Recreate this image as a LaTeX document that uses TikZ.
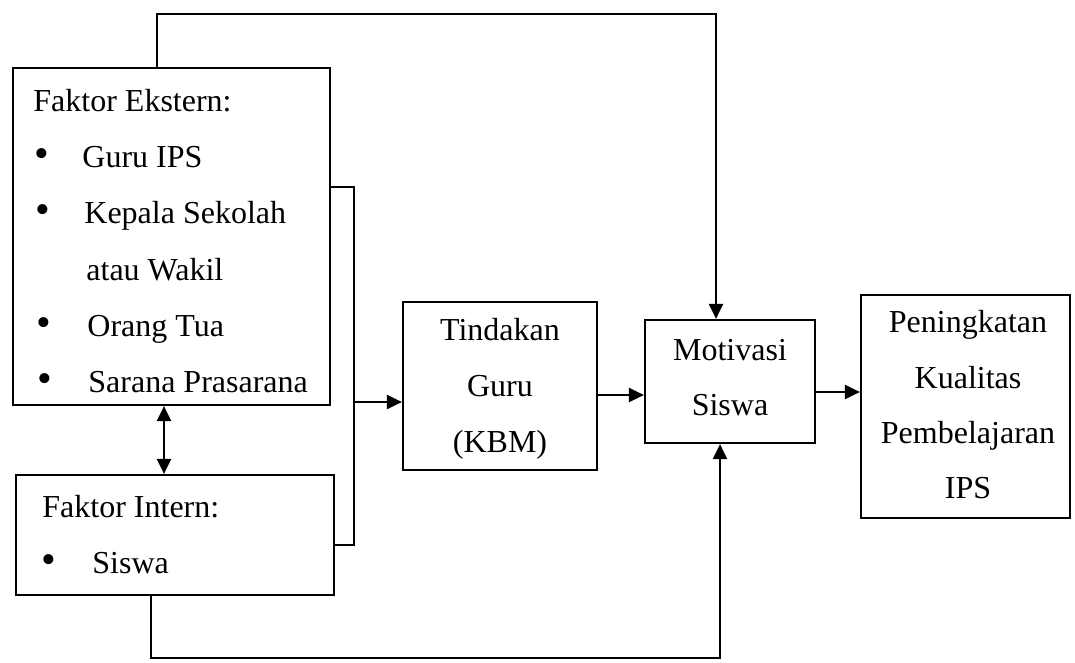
\documentclass[tikz,border=0pt]{standalone}
\usepackage{fontspec}
\setmainfont{Liberation Serif}
\usetikzlibrary{arrows.meta,fit}
\begin{document}
\begin{tikzpicture}[x=0.5pt,y=-0.5pt,
  every node/.style={font=\fontsize{16}{20}\selectfont},
  box/.style={draw,line width=1.1pt,inner sep=0pt,rectangle},
  txt/.style={inner sep=0pt,anchor=base west},
  ctxt/.style={inner sep=0pt,anchor=base},
  bul/.style={inner sep=0pt,anchor=base west,font=\fontsize{21}{21}\selectfont},
  link/.style={line width=1.1pt},
  arr/.style={line width=1.1pt,-{Triangle[length=7.5pt,width=7pt]}},
  darr/.style={line width=1.1pt,{Triangle[length=7.5pt,width=7pt]}-{Triangle[length=7.5pt,width=7pt]}}]
\useasboundingbox (0,0) rectangle (1075,663);
% boxes
\node[box,fit={(13,68)(330,405)}] (ext) {};
\node[box,fit={(16,475)(334,595)}] (int) {};
\node[box,fit={(403,302)(597,470)}] (tin) {};
\node[box,fit={(645,320)(815,443)}] (mot) {};
\node[box,fit={(861,295)(1070,518)}] (pen) {};
% Ekstern text
\node[txt] (e0) at (33,112) {Faktor Ekstern:};
\node[bul] (eb1) at (34,168) {\textbullet};
\node[txt] (e1) at (82,168) {Guru IPS};
\node[bul] (eb2) at (35,224) {\textbullet};
\node[txt] (e2) at (84,224) {Kepala Sekolah};
\node[txt] (e3) at (86,280) {atau Wakil};
\node[bul] (eb4) at (36,336) {\textbullet};
\node[txt] (e4) at (87,336) {Orang Tua};
\node[bul] (eb5) at (37,392) {\textbullet};
\node[txt] (e5) at (88,392) {Sarana Prasarana};
% Intern text
\node[txt] (i0) at (42,517) {Faktor Intern:};
\node[bul] (ib1) at (41,573) {\textbullet};
\node[txt] (i1) at (92,573) {Siswa};
% Tindakan
\node[ctxt] (t1) at (500,340) {Tindakan};
\node[ctxt] (t2) at (500,396) {Guru};
\node[ctxt] (t3) at (500,452) {(KBM)};
% Motivasi
\node[ctxt] (m1) at (730,360) {Motivasi};
\node[ctxt] (m2) at (730,415) {Siswa};
% Peningkatan
\node[ctxt] (p1) at (968,332) {Peningkatan};
\node[ctxt] (p2) at (968,388) {Kualitas};
\node[ctxt] (p3) at (968,443) {Pembelajaran};
\node[ctxt] (p4) at (968,498) {IPS};
% bend coordinates
\coordinate (ta) at (157,14);
\coordinate (tb) at (716,14);
\coordinate (ba) at (354,187);
\coordinate (bb) at (354,545);
\coordinate (bc) at (354,402);
\coordinate (da) at (164,440);
\coordinate (ma) at (620,395);
\coordinate (mb) at (838,392);
\coordinate (ua) at (151,658);
\coordinate (ub) at (720,658);
% connectors
\draw[arr] (ext.north -| ta) -- (ta) -- (tb) -- (tb |- mot.north);
\draw[link] (ext.east |- ba) -- (ba) -- (bb) -- (int.east |- bb);
\draw[arr] (bc) -- (tin.west |- bc);
\draw[darr] (ext.south -| da) -- (int.north -| da);
\draw[arr] (tin.east |- ma) -- (mot.west |- ma);
\draw[arr] (mot.east |- mb) -- (pen.west |- mb);
\draw[arr] (int.south -| ua) -- (ua) -- (ub) -- (ub |- mot.south);
\end{tikzpicture}
\end{document}
